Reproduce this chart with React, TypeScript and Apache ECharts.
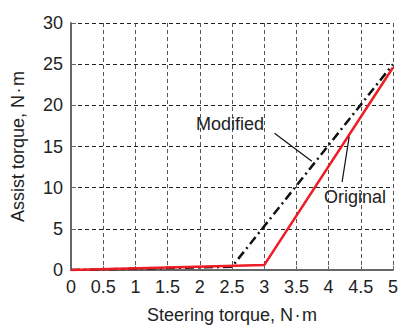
import React, { useEffect, useRef } from "react";
import * as echarts from "echarts";

const originalData: [number, number][] = [
  [0, 0],
  [3, 0.6],
  [5, 24.6],
];
const modifiedData: [number, number][] = [
  [0, 0],
  [2.5, 0.4],
  [5, 25],
];
const xTicks = { min: 0, max: 5, interval: 0.5 };
const yTicks = { min: 0, max: 30, interval: 5 };
const xName = "Steering torque, N\u200A·\u200Am";
const yName = "Assist torque, N\u200A·\u200Am";
const labelModified = { text: "Modified", at: [2.47, 17.7], lead: [[3.16, 16.6], [3.74, 13.2]] };
const labelOriginal = { text: "Original", at: [4.41, 8.85], lead: [[4.21, 10.7], [4.32, 16.2]] };

const FONT = "'Liberation Sans', Arial, Helvetica, sans-serif";

export default function App() {
  const ref = useRef<HTMLDivElement>(null);
  useEffect(() => {
    if (!ref.current) return;
    const chart = echarts.init(ref.current, null, { renderer: "svg" });
    chart.setOption({
      animation: false,
      backgroundColor: "#fff",
      textStyle: { fontFamily: FONT },
      grid: { left: 71, right: 6, top: 23, bottom: 52 },
      xAxis: {
        type: "value",
        min: xTicks.min,
        max: xTicks.max,
        interval: xTicks.interval,
        name: xName,
        nameLocation: "middle",
        nameGap: 36,
        nameTextStyle: { fontSize: 18, color: "#222", fontFamily: FONT },
        axisLine: { show: true, lineStyle: { color: "#666", width: 2 } },
        axisTick: { show: true, inside: true, length: 4, lineStyle: { color: "#666", width: 1 } },
        axisLabel: { fontSize: 18, color: "#222", margin: 8, fontFamily: FONT },
        splitLine: { show: true, lineStyle: { color: "#555", type: [4, 3], width: 1 } },
      },
      yAxis: {
        type: "value",
        min: yTicks.min,
        max: yTicks.max,
        interval: yTicks.interval,
        name: yName,
        nameLocation: "middle",
        nameGap: 44,
        nameTextStyle: { fontSize: 18, color: "#222", fontFamily: FONT },
        axisLine: { show: true, lineStyle: { color: "#666", width: 2 } },
        axisTick: { show: true, inside: true, length: 5, lineStyle: { color: "#666", width: 1 } },
        axisLabel: { fontSize: 18, color: "#222", margin: 8, fontFamily: FONT },
        splitLine: { show: true, lineStyle: { color: "#222", type: [4, 3], width: 1 } },
      },
      series: [
        {
          name: "Modified",
          type: "line",
          data: modifiedData,
          symbol: "none",
          lineStyle: { color: "#111", width: 2.5, type: [9, 4, 2, 4] },
          z: 3,
        },
        {
          name: "Original",
          type: "line",
          data: originalData,
          symbol: "none",
          lineStyle: { color: "#ee1c25", width: 2.5 },
          z: 4,
        },
      ],
    });
    const px = (p: number[]) => chart.convertToPixel({ gridIndex: 0 }, p) as number[];
    const mk = (l: typeof labelModified) => {
      const t = px(l.at);
      const a = px(l.lead[0]);
      const b = px(l.lead[1]);
      return [
        {
          type: "text",
          x: t[0],
          y: t[1],
          style: {
            text: l.text,
            fontSize: 18,
            fontFamily: FONT,
            fill: "#222",
            align: "center",
            verticalAlign: "middle",
          },
          z: 10,
        },
        {
          type: "line",
          shape: { x1: a[0], y1: a[1], x2: b[0], y2: b[1] },
          style: { stroke: "#111", lineWidth: 1.2 },
          z: 10,
        },
      ];
    };
    chart.setOption({ graphic: [...mk(labelModified), ...mk(labelOriginal)] });
    return () => chart.dispose();
  }, []);
  return (
    <div
      ref={ref}
      style={{ position: "fixed", left: 0, top: 0, width: 401, height: 329 }}
    />
  );
}
